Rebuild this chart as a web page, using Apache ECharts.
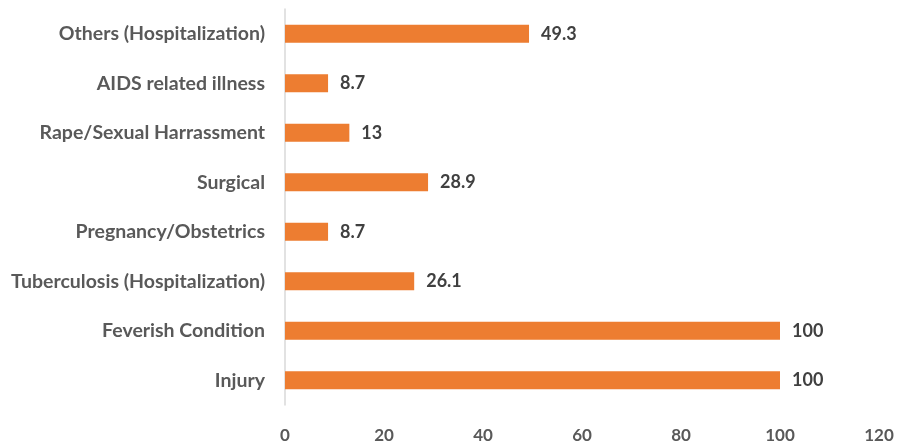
<!DOCTYPE html>
<html>
<head>
<meta charset="utf-8">
<script src="https://cdn.jsdelivr.net/npm/echarts@6/dist/echarts.min.js"></script>
<style>html,body{margin:0;padding:0;background:#fff;}#c{width:898px;height:446px;}</style>
</head>
<body>
<div id="c"></div>
<script>
const categories = ["Injury", "Feverish Condition", "Tuberculosis (Hospitalization)", "Pregnancy/Obstetrics", "Surgical", "Rape/Sexual Harrassment", "AIDS related illness", "Others (Hospitalization)"];
const values = [100, 100, 26.1, 8.7, 28.9, 13, 8.7, 49.3];
const xTicks = [0, 20, 40, 60, 80, 100, 120];

const chart = echarts.init(document.getElementById('c'));
const font = 'Lato, "Open Sans", sans-serif';
chart.setOption({
  animation: false,
  grid: { left: 285, right: 19, top: 9, bottom: 41, containLabel: false },
  xAxis: {
    type: 'value', min: xTicks[0], max: xTicks[xTicks.length - 1], interval: 20,
    splitLine: { show: false },
    axisLine: { show: false }, axisTick: { show: false },
    axisLabel: { margin: 22, color: '#595959', fontSize: 17, fontWeight: 'bold', fontFamily: font }
  },
  yAxis: {
    type: 'category', data: categories,
    axisLine: { show: true, lineStyle: { color: '#d9d9d9', width: 1.5 } },
    axisTick: { show: false },
    axisLabel: { margin: 20, color: '#595959', fontSize: 19.5, fontWeight: 'bold', fontFamily: font }
  },
  series: [{
    type: 'bar', data: values, barWidth: 18,
    itemStyle: { color: '#ED7D31' },
    label: { show: true, position: 'right', distance: 12, color: '#404040', fontSize: 18, fontWeight: 'bold', fontFamily: font }
  }]
});
</script>
</body>
</html>
